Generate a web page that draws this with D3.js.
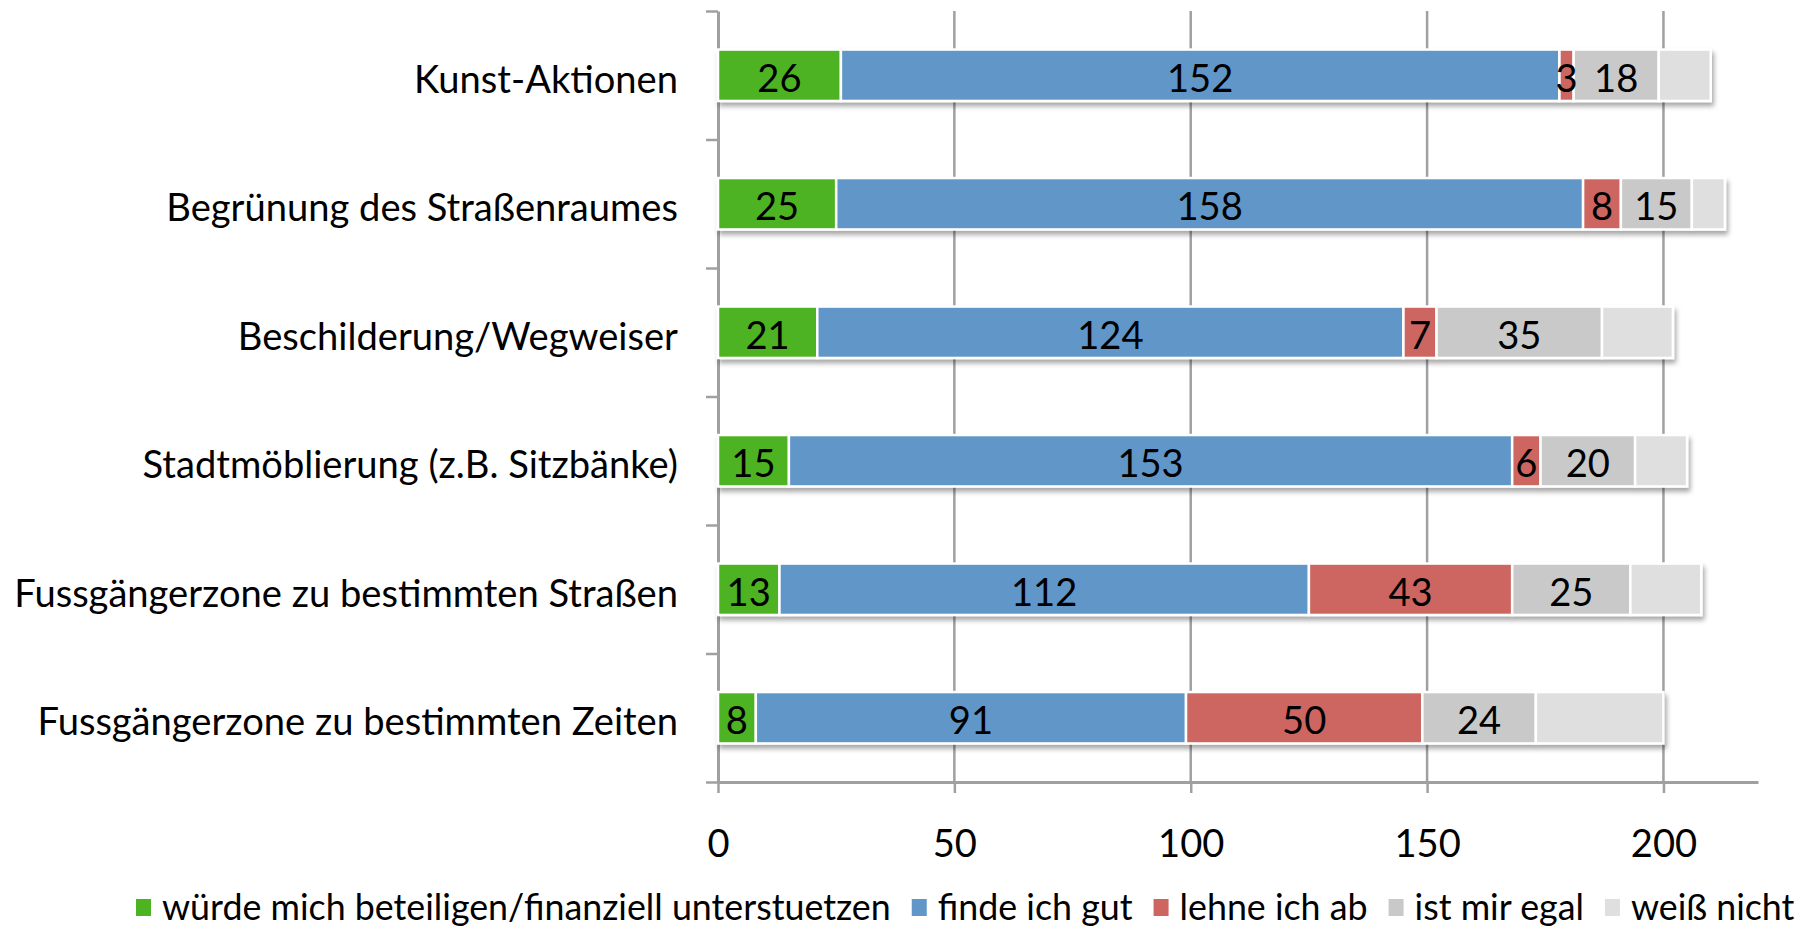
<!DOCTYPE html>
<html>
<head>
<meta charset="utf-8">
<script src="https://cdn.jsdelivr.net/npm/d3@7"></script>
<style>
  body { margin: 0; background: #fff; }
  text { font-family: Lato, "Open Sans", sans-serif; fill: #000; }
</style>
</head>
<body>
<script>
var width = 1812,
    height = 928;

// categories top to bottom
var categories = ["Kunst-Aktionen",
                  "Begrünung des Straßenraumes",
                  "Beschilderung/Wegweiser",
                  "Stadtmöblierung (z.B. Sitzbänke)",
                  "Fussgängerzone zu bestimmten Straßen",
                  "Fussgängerzone zu bestimmten Zeiten"];

var seriesNames = ["würde mich beteiligen/finanziell unterstuetzen",
                   "finde ich gut",
                   "lehne ich ab",
                   "ist mir egal",
                   "weiß nicht"];

var beteiligen = [26, 25, 21, 15, 13, 8],
    findeGut   = [152, 158, 124, 153, 112, 91],
    lehneAb    = [3, 8, 7, 6, 43, 50],
    egal       = [18, 15, 35, 20, 25, 24],
    weissNicht = [11, 7, 15, 11, 15, 27];

var showLabels = [true, true, true, true, false];
var xTicks = [0, 50, 100, 150, 200];
var colors = ["#4db321", "#6096c8", "#cd6660", "#c9c9c9", "#dfdfdf"];

var seriesValues = [beteiligen, findeGut, lehneAb, egal, weissNicht];

//plot area
var plotLeft = 718, plotRight = 1758, plotTop = 11, plotBottom = 782;

var svg = d3.select("body").append("svg")
    .attr("width", width)
    .attr("height", height);

var defs = svg.append("defs");
defs.append("filter")
    .attr("id", "shadow")
    .attr("x", "-5%").attr("y", "-30%")
    .attr("width", "110%").attr("height", "170%")
  .append("feDropShadow")
    .attr("dx", 2).attr("dy", 4)
    .attr("stdDeviation", 2.5)
    .attr("flood-color", "#000")
    .attr("flood-opacity", 0.35);

var x = d3.scaleLinear().domain([0, 220]).range([plotLeft, plotRight]);
var y = d3.scaleBand().domain(categories).range([plotTop, plotBottom])
    .paddingInner(0.6).paddingOuter(0.3);
var yEdges = d3.scaleLinear().domain([0, categories.length]).range([plotTop, plotBottom]);

//stack data
var rows = categories.map(function(c, i) {
    var o = {cat: c};
    seriesNames.forEach(function(s, j) { o[s] = seriesValues[j][i]; });
    return o;
});
var stacked = d3.stack().keys(seriesNames)(rows);

// ===== gridlines =====
svg.append("g").attr("class", "grid")
  .selectAll("line")
  .data(xTicks.filter(function(d) { return d > 0; }))
  .enter().append("line")
    .attr("x1", function(d) { return x(d); })
    .attr("x2", function(d) { return x(d); })
    .attr("y1", plotTop)
    .attr("y2", plotBottom)
    .attr("stroke", "#a0a0a0")
    .attr("stroke-width", 2.5);

// ===== bottom axis =====
var xAxis = svg.append("g")
    .attr("transform", "translate(0," + plotBottom + ")")
    .call(d3.axisBottom(x).tickValues(xTicks).tickSize(11).tickSizeOuter(0));
xAxis.select(".domain").attr("stroke", "#a0a0a0").attr("stroke-width", 3);
xAxis.selectAll(".tick line").attr("stroke", "#a0a0a0").attr("stroke-width", 2.5);
xAxis.selectAll(".tick text")
    .attr("y", 62).attr("dy", "0.35em")
    .attr("font-family", null).attr("class", "num");

// ===== left axis =====
var yAxis = svg.append("g")
    .attr("transform", "translate(" + plotLeft + ",0)")
    .call(d3.axisLeft(yEdges).ticks(categories.length).tickSize(12).tickSizeOuter(0).tickFormat(""));
yAxis.select(".domain").attr("stroke", "#a0a0a0").attr("stroke-width", 3);
yAxis.selectAll(".tick line").attr("stroke", "#a0a0a0").attr("stroke-width", 2.5);

// ===== bars =====
var barG = svg.append("g").attr("class", "bars");
categories.forEach(function(c, i) {
    var g = barG.append("g").attr("filter", "url(#shadow)");
    stacked.forEach(function(layer, j) {
        var d = layer[i];
        g.append("rect")
            .attr("x", x(d[0]))
            .attr("y", y(c))
            .attr("width", x(d[1]) - x(d[0]))
            .attr("height", y.bandwidth())
            .attr("fill", colors[j])
            .attr("stroke", "#fff")
            .attr("stroke-width", 2.5);
    });
});

var labelG = svg.append("g").attr("class", "barlabels");
stacked.forEach(function(layer, j) {
    if (!showLabels[j]) return;
    labelG.selectAll(null)
        .data(layer)
        .enter().append("text")
        .attr("class", "num")
        .attr("x", function(d) { return (x(d[0]) + x(d[1])) / 2; })
        .attr("y", function(d) { return y(d.data.cat) + y.bandwidth() / 2 + 3; })
        .attr("dy", "0.35em")
        .attr("text-anchor", "middle")
        .text(function(d) { return d[1] - d[0]; });
});

// ===== category labels =====
var catLabels = svg.append("g").selectAll("text")
    .data(categories)
    .enter().append("text")
    .attr("x", 678)
    .attr("y", function(d) { return y(d) + y.bandwidth() / 2 + 4; })
    .attr("dy", "0.35em")
    .attr("text-anchor", "end")
    .attr("font-size", 40)
    .text(function(d) { return d; });

//fit font size to the width of the longest label in the picture
var longest = d3.max(catLabels.nodes(), function(n) { return n.getComputedTextLength(); });
var fs = 40 * 664 / longest;
catLabels.attr("font-size", fs);
svg.selectAll(".num").attr("font-size", fs).attr("font-family", null);

// ===== legend =====
var legend = svg.append("g").attr("class", "legend");
var legY = 907;
var items = legend.selectAll("g").data(seriesNames).enter().append("g");
items.append("rect")
    .attr("width", 15).attr("height", 17)
    .attr("y", legY - 8)
    .attr("fill", function(d, i) { return colors[i]; });
var legTexts = items.append("text")
    .attr("x", 26)
    .attr("y", legY)
    .attr("dy", "0.35em")
    .attr("font-size", 40)
    .text(function(d) { return d; });

var sumW = d3.sum(legTexts.nodes(), function(n) { return n.getComputedTextLength(); });
var legFs = 40 * (1659 - 5 * 26 - 4 * 21) / sumW;
legTexts.attr("font-size", legFs);
var cx = 136;
items.each(function() {
    var g = d3.select(this);
    g.attr("transform", "translate(" + cx + ",0)");
    cx += 26 + g.select("text").node().getComputedTextLength() + 21;
});
</script>
</body>
</html>
